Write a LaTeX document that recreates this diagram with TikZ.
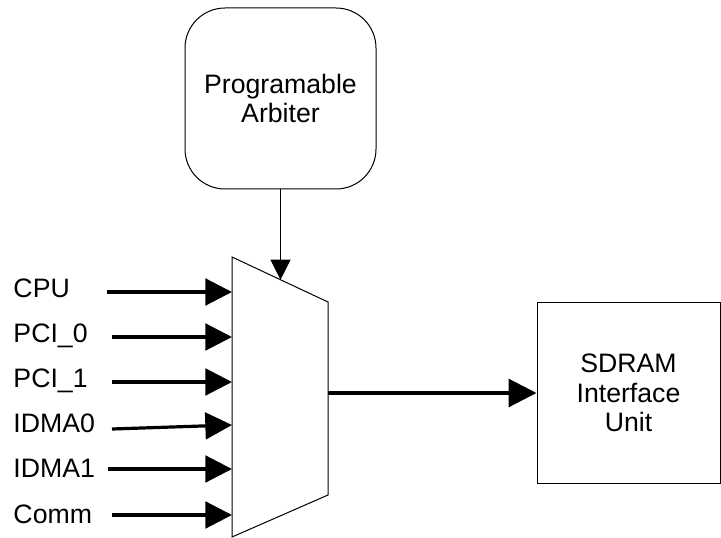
\documentclass[tikz,border=0pt]{standalone}
\usepackage{fontspec}
\setmainfont{Liberation Sans}
\usetikzlibrary{arrows.meta}
\tikzset{
  txt/.style={font=\fontsize{20}{22}\selectfont},
  lbl/.style={txt, anchor=base west, inner sep=0pt},
  bus/.style={line width=2.4pt, -{Triangle[length=20pt,width=20pt]}},
  wire/.style={line width=0.75pt, -{Triangle[length=15pt,width=15pt]}},
}

\begin{document}
\begin{tikzpicture}[x=0.75pt, y=-0.75pt, line width=0.75pt]
  \useasboundingbox (0,0) rectangle (721,538);
  % arbiter
  \node[draw, txt, align=center, rounded corners=30pt,
        minimum width=143.25pt, minimum height=135.75pt]
        (arb) at (280.5,98.5) {Programable\\Arbiter};
  % mux
  \draw (232,257) coordinate (mtl) -- (328,302) coordinate (mtr)
     -- (328,495) coordinate (mbr) -- (232,537) coordinate (mbl) -- cycle;
  \coordinate (sel) at (280.5,279.7);
  \draw[wire] (arb) -- (sel);
  % inputs
  \foreach \name/\lab/\base/\x/\ya/\yb in {cpu/CPU/297/107/292/292,
      pcia/PCI\_0/342/112/337/337, pcib/PCI\_1/387/112/382/382,
      idmaa/IDMA0/432/112/429/425, idmab/IDMA1/477/108/469/469,
      comm/Comm/523/112/515/515}{
    \node[lbl] (\name) at (13,\base) {\lab};
    \coordinate (\name-s) at (\x,\ya);
    \coordinate (\name-e) at (232,\yb);
    \draw[bus] (\name-s) -- (\name-e);
  }
  % sdram
  \node[draw, txt, align=center, minimum width=137.25pt, minimum height=135pt]
        (sdram) at (628.5,393) {SDRAM\\Interface\\Unit};
  \coordinate (mout) at (328,393);
  \draw[bus, -{Triangle[length=21pt,width=21pt]}] (mout) -- (sdram);
\end{tikzpicture}
\end{document}
